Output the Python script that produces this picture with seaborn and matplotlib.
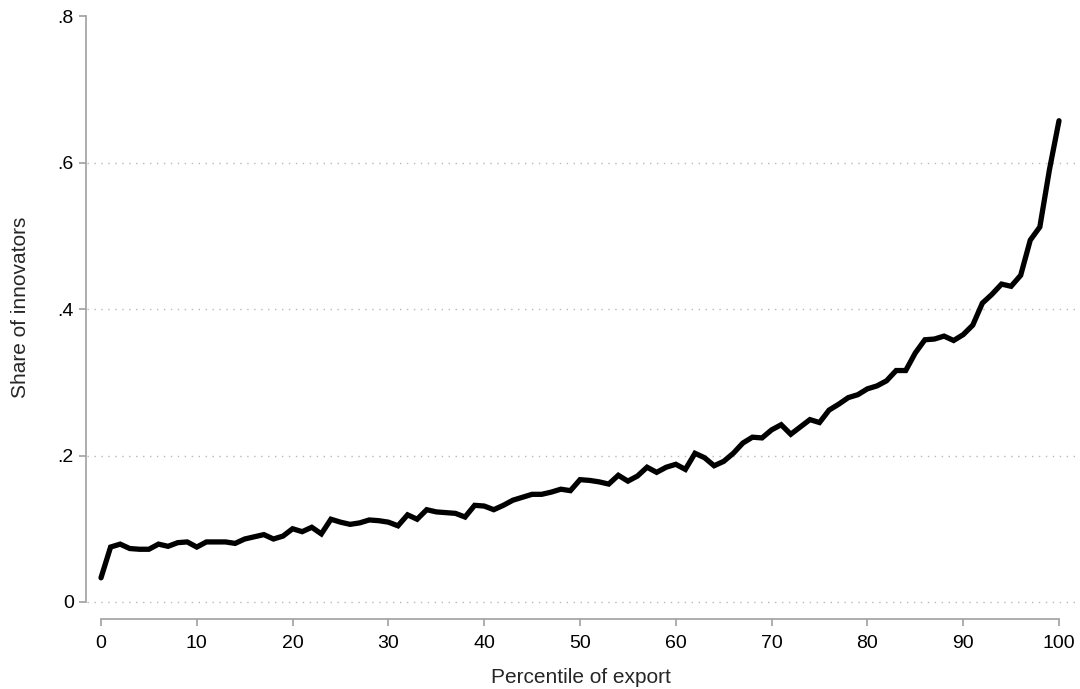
import numpy as np
import pandas as pd
import seaborn as sns
import matplotlib
matplotlib.use('Agg')
import matplotlib.pyplot as plt

# share of innovators by export percentile
percentile = list(range(0, 101))
share = [
    0.033, 0.075, 0.079, 0.073, 0.072, 0.072, 0.079, 0.076, 0.081, 0.082,
    0.075, 0.082, 0.082, 0.082, 0.080, 0.086, 0.089, 0.092, 0.086, 0.090,
    0.100, 0.096, 0.102, 0.093, 0.113, 0.109, 0.106, 0.108, 0.112, 0.111,
    0.109, 0.104, 0.119, 0.113, 0.126, 0.123, 0.122, 0.121, 0.116, 0.132,
    0.131, 0.126, 0.132, 0.139, 0.143, 0.147, 0.147, 0.150, 0.154, 0.152,
    0.167, 0.166, 0.164, 0.161, 0.173, 0.165, 0.172, 0.184, 0.177, 0.184,
    0.188, 0.181, 0.203, 0.197, 0.186, 0.192, 0.203, 0.217, 0.225, 0.224,
    0.235, 0.242, 0.229, 0.239, 0.249, 0.245, 0.262, 0.270, 0.279, 0.283,
    0.291, 0.295, 0.302, 0.316, 0.316, 0.340, 0.358, 0.359, 0.363, 0.357,
    0.365, 0.378, 0.408, 0.420, 0.434, 0.431, 0.446, 0.494, 0.512, 0.590,
    0.657,
]
xticks = [0, 10, 20, 30, 40, 50, 60, 70, 80, 90, 100]
yticks = [0, 0.2, 0.4, 0.6, 0.8]
ytick_labels = ['0', '.2', '.4', '.6', '.8']

df = pd.DataFrame({'percentile': percentile, 'share': share})

sns.set_style('white')
plt.rcParams['font.family'] = ['Liberation Sans', 'DejaVu Sans']

W, H = 1080, 689
fig = plt.figure(figsize=(W / 100, H / 100), dpi=100)
# axes box in pixels: left 87, right 1075, top 10, bottom 604
ax = fig.add_axes([87 / W, (H - 604) / H, (1075 - 87) / W, (604 - 10) / H])

sns.lineplot(data=df, x='percentile', y='share', ax=ax, color='black',
             linewidth=3.8, solid_joinstyle='miter', solid_capstyle='round')

px_per_unit = (1059 - 101) / 100
ax.set_xlim(-14 / px_per_unit, 100 + 16 / px_per_unit)
py_per_unit = (602 - 16) / 0.8
ax.set_ylim(-2 / py_per_unit, 0.8 + 6 / py_per_unit)

ax.set_xticks(xticks)
ax.set_yticks(yticks)
ax.set_yticklabels(ytick_labels)

gray = '#a0a0a0'
for side in ['top', 'right']:
    ax.spines[side].set_visible(False)
ax.spines['left'].set_color(gray)
ax.spines['bottom'].set_color(gray)
ax.spines['left'].set_linewidth(1.2)
ax.spines['bottom'].set_linewidth(1.2)
ax.spines['left'].set_bounds(0, 0.8)
ax.spines['bottom'].set_bounds(0, 100)
ax.spines['bottom'].set_position(('outward', 10.5))
ax.spines['left'].set_position(('outward', 0.5))

ax.tick_params(axis='both', direction='out', length=5, width=1.2, color=gray,
               labelsize=14, labelcolor='black', pad=4)
ax.tick_params(axis='x', bottom=True, pad=7)
ax.tick_params(axis='y', left=True)

ax.grid(axis='y', color='#b8b8b8', linestyle=(0, (1, 4)), linewidth=1.0)
ax.grid(axis='x', visible=False)
ax.get_ygridlines()[-1].set_visible(False)

ax.set_xlabel('Percentile of export', fontsize=15, labelpad=11)
ax.set_ylabel('Share of innovators', fontsize=15, labelpad=20)

fig.savefig('out.png', dpi=100)
